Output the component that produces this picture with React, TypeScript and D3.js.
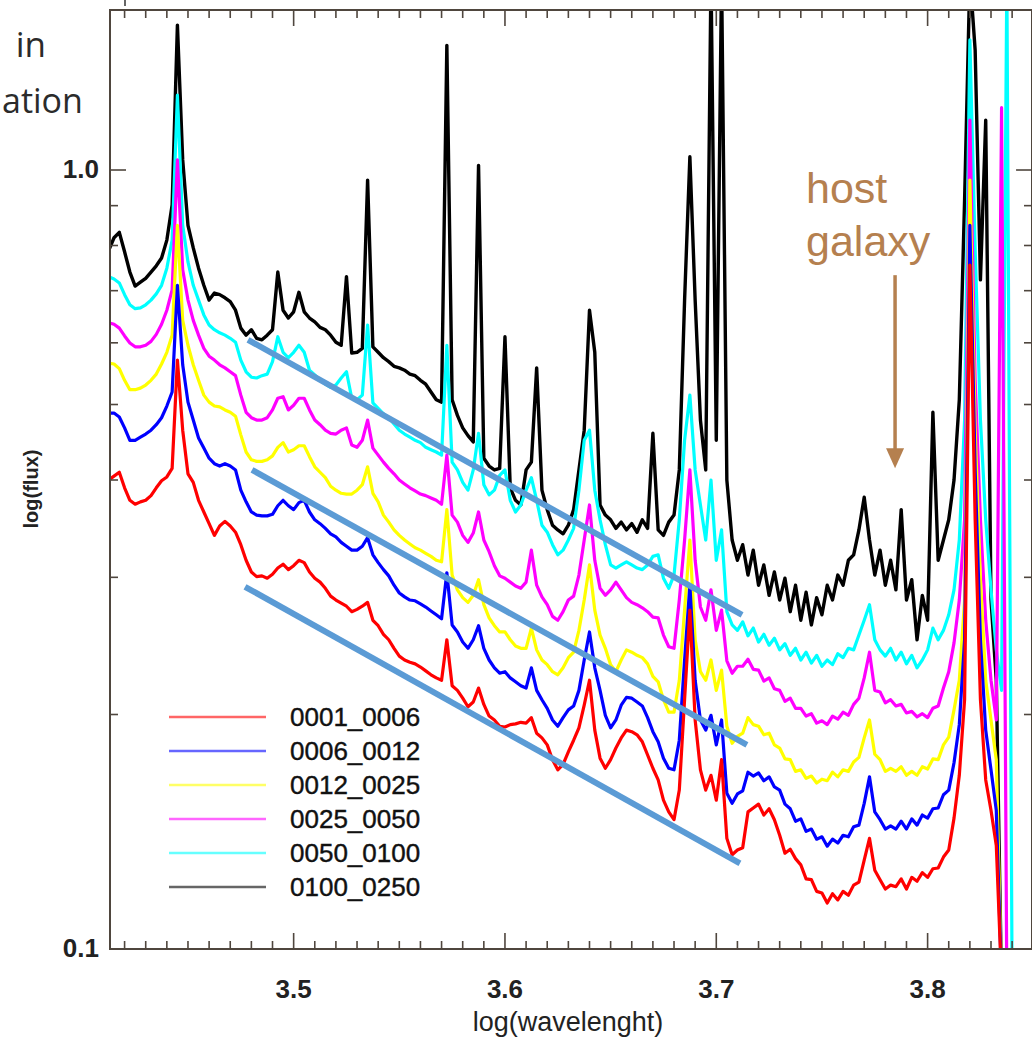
import React from 'react';
import * as d3 from 'd3';

const W = 1032;
const H = 1040;
const PLOT = { left: 110, right: 1032, top: 10, bottom: 949 };

// log(wavelength) domain and log10(flux) domain of the panel
const xDomain = [3.4131, 3.8494];
const yDomain = [-1, 0.2054];

// spectra are sampled on a regular log-wavelength grid
const gridStart = 3.4125;
const gridStep = 0.0025;
const logWavelength = d3.range(172).map((i) => gridStart + i * gridStep);

// log10(flux), one value per grid point
const flux_0001_0006 = [
  -0.398,-0.393,-0.388,-0.408,-0.424,-0.429,-0.426,-0.424,-0.418,-0.408,
  -0.399,-0.394,-0.383,-0.244,-0.334,-0.390,-0.401,-0.424,-0.439,-0.454,
  -0.469,-0.457,-0.451,-0.457,-0.465,-0.481,-0.501,-0.516,-0.522,-0.521,
  -0.524,-0.519,-0.511,-0.506,-0.513,-0.508,-0.501,-0.504,-0.516,-0.524,
  -0.529,-0.537,-0.547,-0.552,-0.556,-0.560,-0.567,-0.564,-0.560,-0.555,
  -0.578,-0.585,-0.596,-0.603,-0.614,-0.624,-0.629,-0.632,-0.634,-0.638,
  -0.643,-0.648,-0.652,-0.655,-0.603,-0.662,-0.668,-0.678,-0.689,-0.683,
  -0.665,-0.686,-0.701,-0.706,-0.714,-0.715,-0.712,-0.711,-0.709,-0.710,
  -0.703,-0.723,-0.729,-0.738,-0.757,-0.770,-0.763,-0.747,-0.732,-0.716,
  -0.687,-0.655,-0.719,-0.755,-0.768,-0.757,-0.742,-0.729,-0.719,-0.721,
  -0.725,-0.734,-0.751,-0.768,-0.783,-0.809,-0.824,-0.834,-0.796,-0.680,
  -0.565,-0.706,-0.770,-0.796,-0.777,-0.809,-0.757,
  -0.858,-0.879,-0.873,-0.870,-0.824,-0.819,-0.814,-0.828,-0.820,-0.834,
  -0.854,-0.877,-0.872,-0.884,-0.892,-0.910,-0.911,-0.926,-0.928,-0.941,
  -0.929,-0.937,-0.926,-0.931,-0.918,-0.914,-0.886,-0.858,-0.899,-0.911,
  -0.923,-0.918,-0.920,-0.910,-0.923,-0.908,-0.913,-0.902,-0.908,-0.897,
  -0.896,-0.882,-0.873,-0.832,
  -0.777,-0.680,-0.122,-0.449,-0.680,-0.783,-0.822,-0.867,-1.04,-1.05,-1.05,
];

const flux_0006_0012 = [
  -0.312,-0.312,-0.317,-0.331,-0.347,-0.347,-0.343,-0.339,-0.334,-0.327,
  -0.318,-0.303,-0.285,-0.148,-0.250,-0.298,-0.321,-0.344,-0.357,-0.370,
  -0.377,-0.380,-0.377,-0.380,-0.385,-0.411,-0.426,-0.439,-0.443,-0.444,
  -0.444,-0.442,-0.431,-0.424,-0.431,-0.436,-0.427,-0.424,-0.439,-0.449,
  -0.454,-0.460,-0.467,-0.471,-0.478,-0.483,-0.488,-0.488,-0.483,-0.472,
  -0.494,-0.504,-0.513,-0.521,-0.533,-0.543,-0.548,-0.552,-0.553,-0.557,
  -0.561,-0.566,-0.571,-0.576,-0.517,-0.584,-0.593,-0.606,-0.614,-0.603,
  -0.585,-0.614,-0.629,-0.639,-0.646,-0.644,-0.652,-0.657,-0.662,-0.665,
  -0.639,-0.668,-0.680,-0.691,-0.706,-0.714,-0.703,-0.693,-0.688,-0.668,
  -0.629,-0.593,-0.639,-0.668,-0.700,-0.716,-0.706,-0.687,-0.677,-0.678,
  -0.683,-0.688,-0.703,-0.721,-0.734,-0.755,-0.768,-0.770,-0.732,-0.629,
  -0.533,-0.655,-0.706,-0.719,-0.700,-0.738,-0.706,
  -0.800,-0.813,-0.801,-0.797,-0.773,-0.778,-0.774,-0.784,-0.779,-0.792,
  -0.796,-0.814,-0.820,-0.836,-0.833,-0.849,-0.846,-0.859,-0.856,-0.868,
  -0.859,-0.864,-0.854,-0.856,-0.843,-0.841,-0.813,-0.779,-0.824,-0.834,
  -0.846,-0.842,-0.846,-0.836,-0.846,-0.833,-0.841,-0.828,-0.832,-0.820,
  -0.819,-0.802,-0.796,-0.761,
  -0.712,-0.603,-0.071,-0.385,-0.603,-0.719,-0.770,-0.822,-1.04,-1.05,-1.05,
];

const flux_0012_0025 = [
  -0.248,-0.249,-0.255,-0.270,-0.282,-0.282,-0.280,-0.276,-0.270,-0.262,
  -0.249,-0.234,-0.212,-0.071,-0.193,-0.225,-0.250,-0.270,-0.289,-0.298,
  -0.303,-0.304,-0.308,-0.311,-0.316,-0.340,-0.362,-0.372,-0.374,-0.374,
  -0.372,-0.367,-0.356,-0.350,-0.362,-0.359,-0.354,-0.354,-0.368,-0.381,
  -0.388,-0.395,-0.406,-0.411,-0.415,-0.416,-0.416,-0.411,-0.404,-0.381,
  -0.415,-0.426,-0.443,-0.452,-0.462,-0.469,-0.475,-0.480,-0.485,-0.488,
  -0.492,-0.496,-0.501,-0.503,-0.436,-0.520,-0.539,-0.549,-0.555,-0.546,
  -0.526,-0.558,-0.575,-0.585,-0.593,-0.593,-0.603,-0.611,-0.614,-0.614,
  -0.588,-0.616,-0.629,-0.635,-0.644,-0.648,-0.639,-0.626,-0.619,-0.591,
  -0.552,-0.507,-0.565,-0.597,-0.614,-0.635,-0.644,-0.629,-0.616,-0.619,
  -0.623,-0.626,-0.634,-0.650,-0.657,-0.680,-0.696,-0.696,-0.655,-0.565,
  -0.475,-0.603,-0.644,-0.655,-0.629,-0.668,-0.642,
  -0.714,-0.736,-0.727,-0.723,-0.703,-0.712,-0.714,-0.725,-0.723,-0.738,
  -0.742,-0.756,-0.757,-0.772,-0.770,-0.781,-0.778,-0.787,-0.782,-0.784,
  -0.773,-0.779,-0.770,-0.772,-0.760,-0.754,-0.729,-0.706,-0.750,-0.757,
  -0.772,-0.768,-0.772,-0.766,-0.777,-0.772,-0.777,-0.766,-0.769,-0.756,
  -0.757,-0.738,-0.728,-0.693,
  -0.655,-0.552,-0.013,-0.334,-0.526,-0.655,-0.706,-0.757,-1.04,-1.05,-1.05,
];

const flux_0025_0050 = [
  -0.196,-0.198,-0.203,-0.213,-0.222,-0.227,-0.227,-0.225,-0.220,-0.211,
  -0.198,-0.180,-0.154,0.013,-0.128,-0.167,-0.193,-0.212,-0.229,-0.239,
  -0.244,-0.250,-0.254,-0.259,-0.264,-0.289,-0.311,-0.318,-0.321,-0.321,
  -0.318,-0.308,-0.293,-0.291,-0.308,-0.302,-0.293,-0.293,-0.308,-0.321,
  -0.327,-0.334,-0.338,-0.339,-0.334,-0.331,-0.353,-0.356,-0.347,-0.321,
  -0.357,-0.366,-0.375,-0.383,-0.390,-0.398,-0.403,-0.408,-0.412,-0.416,
  -0.418,-0.421,-0.424,-0.429,-0.366,-0.443,-0.452,-0.469,-0.478,-0.466,
  -0.439,-0.475,-0.490,-0.508,-0.521,-0.524,-0.529,-0.534,-0.537,-0.529,
  -0.488,-0.533,-0.548,-0.558,-0.573,-0.578,-0.567,-0.552,-0.547,-0.520,
  -0.475,-0.430,-0.501,-0.537,-0.546,-0.539,-0.529,-0.539,-0.549,-0.555,
  -0.558,-0.562,-0.567,-0.574,-0.575,-0.597,-0.612,-0.614,-0.552,-0.475,
  -0.385,-0.501,-0.561,-0.578,-0.539,-0.591,-0.565,
  -0.630,-0.646,-0.637,-0.637,-0.628,-0.641,-0.642,-0.656,-0.652,-0.666,
  -0.668,-0.682,-0.678,-0.691,-0.691,-0.701,-0.698,-0.710,-0.707,-0.712,
  -0.701,-0.705,-0.696,-0.700,-0.686,-0.678,-0.652,-0.619,-0.668,-0.670,
  -0.684,-0.680,-0.688,-0.686,-0.697,-0.695,-0.702,-0.698,-0.703,-0.691,
  -0.688,-0.665,-0.644,-0.607,
  -0.552,-0.449,0.064,-0.270,-0.449,-0.578,-0.655,-0.706,0.080,-1.05,-1.05,
];

const flux_0050_0100 = [
  -0.137,-0.140,-0.145,-0.160,-0.173,-0.178,-0.177,-0.173,-0.167,-0.159,
  -0.148,-0.126,-0.090,0.096,-0.071,-0.118,-0.148,-0.167,-0.186,-0.199,
  -0.205,-0.209,-0.212,-0.216,-0.221,-0.244,-0.259,-0.266,-0.267,-0.264,
  -0.262,-0.246,-0.214,-0.234,-0.241,-0.234,-0.225,-0.234,-0.257,-0.263,
  -0.270,-0.275,-0.279,-0.276,-0.267,-0.259,-0.293,-0.295,-0.289,-0.199,
  -0.299,-0.306,-0.313,-0.318,-0.326,-0.334,-0.339,-0.343,-0.347,-0.350,
  -0.356,-0.359,-0.362,-0.366,-0.225,-0.375,-0.385,-0.401,-0.411,-0.385,
  -0.338,-0.404,-0.417,-0.411,-0.392,-0.385,-0.424,-0.439,-0.430,-0.411,
  -0.395,-0.424,-0.456,-0.465,-0.481,-0.494,-0.488,-0.475,-0.460,-0.411,
  -0.347,-0.334,-0.411,-0.449,-0.481,-0.507,-0.511,-0.507,-0.503,-0.507,
  -0.511,-0.513,-0.507,-0.496,-0.494,-0.524,-0.537,-0.520,-0.449,-0.347,
  -0.289,-0.385,-0.430,-0.475,-0.398,-0.501,-0.462,
  -0.567,-0.584,-0.591,-0.580,-0.598,-0.588,-0.606,-0.596,-0.610,-0.601,
  -0.616,-0.608,-0.623,-0.614,-0.629,-0.619,-0.633,-0.623,-0.637,-0.629,
  -0.635,-0.621,-0.626,-0.614,-0.616,-0.597,-0.578,-0.558,-0.603,-0.616,
  -0.624,-0.614,-0.629,-0.619,-0.634,-0.623,-0.639,-0.629,-0.616,-0.588,
  -0.603,-0.591,-0.571,-0.539,
  -0.475,-0.321,0.167,-0.103,-0.321,-0.449,-0.539,-0.616,-0.668,0.25,-1.05,
];

const flux_0100_0250 = [
  -0.103,-0.087,-0.080,-0.105,-0.131,-0.149,-0.144,-0.139,-0.131,-0.123,
  -0.113,-0.090,-0.045,0.186,0.013,-0.071,-0.100,-0.126,-0.148,-0.167,
  -0.158,-0.160,-0.164,-0.169,-0.180,-0.203,-0.212,-0.205,-0.216,-0.218,
  -0.212,-0.205,-0.131,-0.180,-0.190,-0.182,-0.157,-0.182,-0.190,-0.195,
  -0.202,-0.205,-0.212,-0.221,-0.225,-0.137,-0.235,-0.234,-0.229,-0.013,
  -0.227,-0.234,-0.241,-0.246,-0.252,-0.254,-0.257,-0.262,-0.264,-0.270,
  -0.275,-0.285,-0.295,-0.298,0.160,-0.295,-0.315,-0.331,-0.341,-0.349,
  0.006,-0.370,-0.380,-0.385,-0.383,-0.214,-0.408,-0.424,-0.430,-0.385,
  -0.375,-0.254,-0.411,-0.436,-0.456,-0.462,-0.467,-0.456,-0.436,-0.385,
  -0.334,-0.180,-0.234,-0.430,-0.443,-0.449,-0.460,-0.452,-0.462,-0.454,
  -0.465,-0.449,-0.460,-0.338,-0.462,-0.469,-0.452,-0.443,-0.385,-0.167,
  0.017,-0.167,-0.321,-0.385,0.25,-0.347,0.25,
  -0.398,-0.475,-0.501,-0.481,-0.520,-0.488,-0.533,-0.507,-0.546,-0.516,
  -0.552,-0.524,-0.567,-0.533,-0.578,-0.542,-0.584,-0.549,-0.571,-0.533,
  -0.552,-0.520,-0.533,-0.501,-0.494,-0.462,-0.420,-0.475,-0.520,-0.488,
  -0.533,-0.501,-0.539,-0.436,-0.552,-0.526,-0.603,-0.546,-0.578,-0.311,
  -0.501,-0.475,-0.449,-0.398,
  -0.295,-0.039,0.25,0.154,-0.141,0.064,-0.552,-0.655,-1.05,-1.05,-1.05,
];

const seriesNames = ['0001_0006', '0006_0012', '0012_0025', '0025_0050', '0050_0100', '0100_0250'];
const seriesColors = ['#ff0000', '#0000ff', '#ffff00', '#ff00ff', '#00ffff', '#000000'];
const seriesValues = [flux_0001_0006, flux_0006_0012, flux_0012_0025, flux_0025_0050, flux_0050_0100, flux_0100_0250];

// three hand-drawn guide lines: [logλ, log flux] start and end
const guideStarts = [[3.4784, -0.218], [3.4803, -0.385], [3.4770, -0.535]];
const guideEnds = [[3.7122, -0.571], [3.7145, -0.738], [3.7112, -0.890]];

// arrow of the "host galaxy" note, in data units
const arrowLogWave = 3.7846;
const arrowFrom = -0.135;
const arrowTo = -0.383;

const xMajor = [3.5, 3.6, 3.7, 3.8];
const xMajorLabels = ['3.5', '3.6', '3.7', '3.8'];
const xMinor = d3.range(342, 385).map((k) => k / 100);
const yTickFlux = [0.1, 0.2, 0.3, 0.4, 0.5, 0.6, 0.7, 0.8, 0.9, 1.0];
const yMajorFlux = [0.1, 1.0];
const yMajorLabels = ['0.1', '1.0'];

const FONT = '"Liberation Sans", Arial, Helvetica, sans-serif';
const FRAME = '#4f463e';
const NOTE = '#b5804f';

export default function App() {
  const x = d3.scaleLinear().domain(xDomain).range([PLOT.left, PLOT.right]);
  const y = d3.scaleLinear().domain(yDomain).range([PLOT.bottom, PLOT.top]);
  const line = d3
    .line<number>()
    .x((_, i) => x(logWavelength[i]))
    .y((d) => y(d));

  const order = [5, 4, 3, 2, 1, 0];
  const legendY0 = 717;
  const legendStep = 34;
  const ax = x(arrowLogWave);

  return (
    <svg
      width={W}
      height={H}
      style={{ position: 'absolute', left: 0, top: 0, background: '#fff' }}
    >
      <defs>
        <clipPath id="plotclip">
          <rect x={PLOT.left} y={PLOT.top} width={PLOT.right - PLOT.left} height={PLOT.bottom - PLOT.top} />
        </clipPath>
      </defs>
      <rect x={0} y={0} width={W} height={H} fill="#fff" />

      {/* slide text fragments */}
      <text x={46} y={57} textAnchor="end" fontFamily='"Open Sans", "Noto Sans", sans-serif' fontSize={35} fill="#2b2b2b">in</text>
      <text x={2} y={113} textAnchor="start" fontFamily='"Open Sans", "Noto Sans", sans-serif' fontSize={34} fill="#2b2b2b">ation</text>
      <line x1={125} y1={0} x2={125} y2={6} stroke="#333" strokeWidth={1.5} />

      {/* spectra */}
      <g clipPath="url(#plotclip)">
        {order.map((k) => (
          <path
            key={seriesNames[k]}
            d={line(seriesValues[k]) || ''}
            fill="none"
            stroke={seriesColors[k]}
            strokeWidth={k === 5 ? 3.4 : 3.2}
            strokeLinejoin="round"
          />
        ))}
      </g>

      {/* guide lines */}
      {guideStarts.map((s, i) => (
        <line
          key={'g' + i}
          x1={x(s[0])}
          y1={y(s[1])}
          x2={x(guideEnds[i][0])}
          y2={y(guideEnds[i][1])}
          stroke="#5b9bd5"
          strokeWidth={6}
        />
      ))}

      {/* frame */}
      <rect
        x={PLOT.left}
        y={PLOT.top}
        width={PLOT.right - PLOT.left}
        height={PLOT.bottom - PLOT.top}
        fill="none"
        stroke={FRAME}
        strokeWidth={2}
      />

      {/* x ticks bottom & top */}
      {xMinor.map((v) => {
        const major = xMajor.some((m) => Math.abs(m - v) < 1e-6);
        const len = major ? 16 : 8;
        return (
          <g key={'xt' + v}>
            <line x1={x(v)} x2={x(v)} y1={PLOT.bottom} y2={PLOT.bottom - len} stroke={FRAME} strokeWidth={1.6} />
            <line x1={x(v)} x2={x(v)} y1={PLOT.top} y2={PLOT.top + len} stroke={FRAME} strokeWidth={1.6} />
          </g>
        );
      })}
      {xMajor.map((v, i) => (
        <text key={'xl' + v} x={x(v)} y={998} textAnchor="middle" fontFamily={FONT} fontWeight="bold" fontSize={26} fill="#222">
          {xMajorLabels[i]}
        </text>
      ))}

      {/* y ticks left & right */}
      {yTickFlux.map((f) => {
        const major = yMajorFlux.includes(f);
        const len = major ? 16 : 8;
        const py = y(Math.log10(f));
        return (
          <g key={'yt' + f}>
            <line x1={PLOT.left} x2={PLOT.left + len} y1={py} y2={py} stroke={FRAME} strokeWidth={1.6} />
            <line x1={PLOT.right} x2={PLOT.right - len} y1={py} y2={py} stroke={FRAME} strokeWidth={1.6} />
          </g>
        );
      })}
      {yMajorFlux.map((f, i) => (
        <text key={'yl' + f} x={99} y={y(Math.log10(f)) + 8} textAnchor="end" fontFamily={FONT} fontWeight="bold" fontSize={26} fill="#222">
          {yMajorLabels[i]}
        </text>
      ))}

      {/* axis titles */}
      <text x={568} y={1031} textAnchor="middle" fontFamily={FONT} fontSize={27} fill="#222">log(wavelenght)</text>
      <text transform="translate(38,489) rotate(-90)" textAnchor="middle" fontFamily={FONT} fontWeight="bold" fontSize={20} fill="#222">log(flux)</text>

      {/* legend */}
      {seriesNames.map((n, i) => (
        <g key={'lg' + n}>
          <line x1={169} x2={266} y1={legendY0 + i * legendStep} y2={legendY0 + i * legendStep} stroke={seriesColors[i]} strokeOpacity={0.6} strokeWidth={2.5} />
          <text x={290} y={legendY0 + i * legendStep + 9} fontFamily={FONT} fontSize={26} fill="#111" stroke="#111" strokeWidth={0.4}>{n}</text>
        </g>
      ))}

      {/* host galaxy annotation */}
      <text x={806} y={203} fontFamily={FONT} fontSize={43} fill={NOTE}>host</text>
      <text x={806} y={256} fontFamily={FONT} fontSize={43} fill={NOTE}>galaxy</text>
      <line x1={ax} x2={ax} y1={y(arrowFrom)} y2={y(arrowTo) - 16} stroke={NOTE} strokeWidth={3.5} />
      <path
        d={`M${ax - 9},${y(arrowTo) - 20} L${ax + 9},${y(arrowTo) - 20} L${ax},${y(arrowTo)} Z`}
        fill={NOTE}
      />
    </svg>
  );
}
